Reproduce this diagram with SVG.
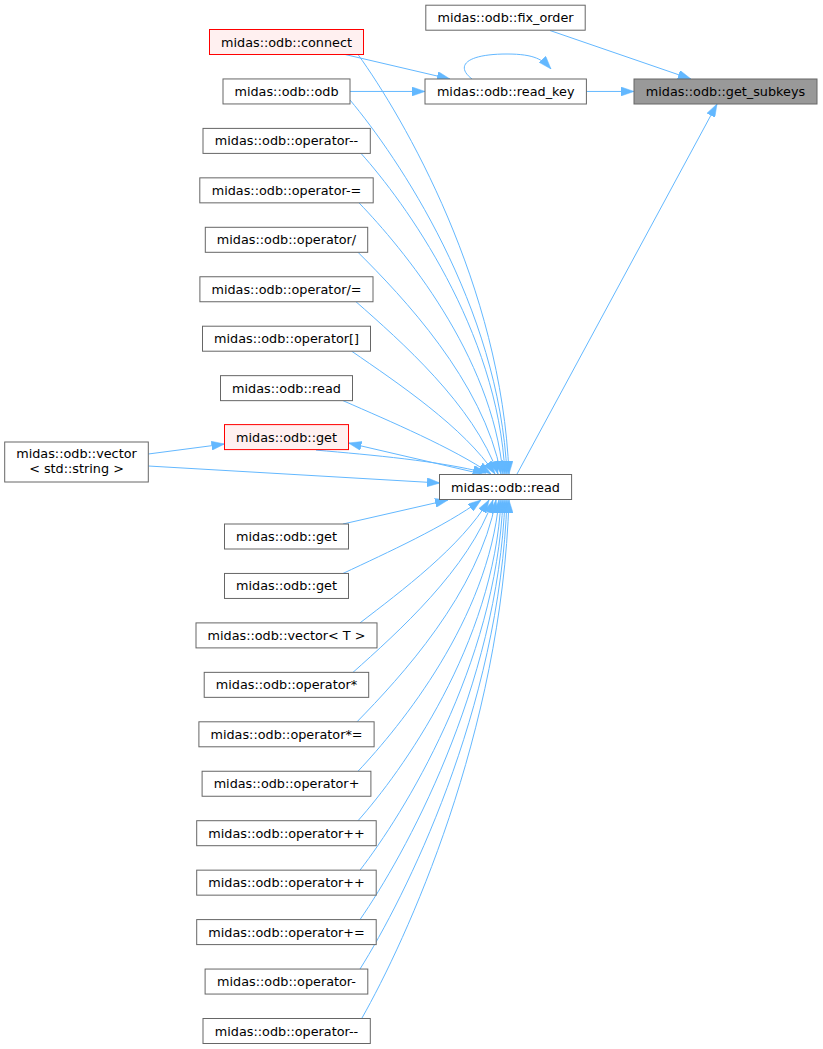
<svg xmlns="http://www.w3.org/2000/svg" width="823" height="1049" viewBox="0 0 823 1049">
<style>
rect.n{fill:#ffffff;stroke:#666666;stroke-width:1}
rect.r{fill:#fff0f0;stroke:#ff0000;stroke-width:1}
rect.h{fill:#999999;stroke:#666666;stroke-width:1}
text{font-family:"DejaVu Sans","Liberation Sans",sans-serif;font-size:12.8px;fill:#000000;text-anchor:middle}
#edges path{fill:none;stroke:#63b8ff;stroke-width:1;marker-end:url(#arr)}
</style>
<defs>
<marker id="arr" markerUnits="userSpaceOnUse" markerWidth="13" markerHeight="9" viewBox="0 0 13 9" refX="13" refY="4.5" orient="auto">
<path d="M0,0 L13,4.5 L0,9 z" fill="#63b8ff" stroke="#63b8ff" stroke-width="0.5"/>
</marker>
</defs>
<rect width="823" height="1049" fill="#ffffff"/>
<g id="edges">
<path d="M586.4,91.45 L634,91.45"/>
<path d="M550,30.5 L691,79"/>
<path d="M517,474 L717,104"/>
<path d="M472,79 C455,66 466,54 507,54 C535,54 543,60 551,69"/>
<path d="M343,54 L450,79"/>
<path d="M350,91.45 L425,91.45"/>
<path d="M358,54.5 C403.3,117.4 501.45,285.2 509,474"/>
<path d="M350,100 C397.1,156.1 499.15,305.7 507,474"/>
<path d="M361,153.4 C404.2,201.5 497.8,329.7 505,474"/>
<path d="M359,202.85 C402.7,248.3 491.9,355 503,474"/>
<path d="M358,252.3 C402.1,296.2 483.3,381 501,474"/>
<path d="M356,301.75 C400.6,341 473.8,405.1 498,474"/>
<path d="M351.7,351.2 C397.5,382.9 463.9,427.2 495,474"/>
<path d="M343,400.65 C391.1,421.8 452,447.5 491,474"/>
<path d="M316,450.1 C372,455 440,461 486,473"/>
<path d="M482,474 L348.5,443"/>
<path d="M148.3,454 L224.5,444"/>
<path d="M148.3,466 L440,483"/>
<path d="M343,524 L448,500"/>
<path d="M343,573.45 C387.9,552.3 444.6,526.6 481,500"/>
<path d="M360,622.9 C401.2,591.2 461,546.8 489,500"/>
<path d="M353,672.35 C397,633 469.1,569 493,500"/>
<path d="M357,721.8 C399.9,677.9 478.8,593 496,500"/>
<path d="M358,771.25 C400.8,725.8 488.1,619 499,500"/>
<path d="M358,820.7 C400.9,772.6 493.9,644.3 501,500"/>
<path d="M360,870.15 C402.9,814.6 495.9,666.6 503,500"/>
<path d="M360,919.6 C403.5,856.7 497.8,688.8 505,500"/>
<path d="M360,969.05 C404.1,898.7 499.65,711.1 507,500"/>
<path d="M361.7,1018.5 C405.9,940.7 501.6,733.3 509,500"/>
</g>
<g id="n_get_subkeys"><rect class="h" x="634" y="79" width="183" height="25"/><text x="725.5" y="96">midas::odb::get_subkeys</text></g>
<g id="n_fix_order"><rect class="n" x="425.8" y="5.2" width="159.4" height="25"/><text x="505.5" y="22.2">midas::odb::fix_order</text></g>
<g id="n_read_key"><rect class="n" x="425" y="79" width="161.4" height="25"/><text x="505.7" y="96">midas::odb::read_key</text></g>
<g id="n_read_main"><rect class="n" x="439.5" y="474.5" width="132.1" height="25"/><text x="505.5" y="491.5">midas::odb::read</text></g>
<g id="n_connect"><rect class="r" x="209.5" y="29.5" width="154" height="25"/><text x="286.5" y="46.5">midas::odb::connect</text></g>
<g id="n_odb"><rect class="n" x="223" y="78.95" width="127" height="25"/><text x="286.5" y="95.95">midas::odb::odb</text></g>
<g id="n_op_dec1"><rect class="n" x="203" y="128.4" width="167.3" height="25"/><text x="286.5" y="145.4">midas::odb::operator--</text></g>
<g id="n_op_sub_assign"><rect class="n" x="199.8" y="177.85" width="173.4" height="25"/><text x="286.5" y="194.85">midas::odb::operator-=</text></g>
<g id="n_op_div"><rect class="n" x="205.3" y="227.3" width="162.4" height="25"/><text x="286.5" y="244.3">midas::odb::operator/</text></g>
<g id="n_op_div_assign"><rect class="n" x="199.9" y="276.75" width="173.1" height="25"/><text x="286.5" y="293.75">midas::odb::operator/=</text></g>
<g id="n_op_index"><rect class="n" x="202.5" y="326.2" width="168" height="25"/><text x="286.5" y="343.2">midas::odb::operator[]</text></g>
<g id="n_read2"><rect class="n" x="220.5" y="375.65" width="132" height="25"/><text x="286.5" y="392.65">midas::odb::read</text></g>
<g id="n_get_red"><rect class="r" x="224.5" y="424.6" width="124" height="25"/><text x="286.5" y="441.6">midas::odb::get</text></g>
<g id="n_vector_str"><rect class="n" x="4.7" y="442" width="143.6" height="40"/><text x="76.5" y="458">midas::odb::vector</text><text x="76.5" y="472.5">&lt; std::string &gt;</text></g>
<g id="n_get2"><rect class="n" x="224.5" y="524" width="124" height="25"/><text x="286.5" y="541">midas::odb::get</text></g>
<g id="n_get3"><rect class="n" x="224.5" y="573.45" width="124" height="25"/><text x="286.5" y="590.45">midas::odb::get</text></g>
<g id="n_vector_t"><rect class="n" x="196" y="622.9" width="181" height="25"/><text x="286.5" y="639.9">midas::odb::vector&lt; T &gt;</text></g>
<g id="n_op_mul"><rect class="n" x="204.2" y="672.35" width="164.5" height="25"/><text x="286.5" y="689.35">midas::odb::operator*</text></g>
<g id="n_op_mul_assign"><rect class="n" x="198.9" y="721.8" width="175.2" height="25"/><text x="286.5" y="738.8">midas::odb::operator*=</text></g>
<g id="n_op_add"><rect class="n" x="202.1" y="771.25" width="168.8" height="25"/><text x="286.5" y="788.25">midas::odb::operator+</text></g>
<g id="n_op_inc1"><rect class="n" x="196.7" y="820.7" width="179.5" height="25"/><text x="286.5" y="837.7">midas::odb::operator++</text></g>
<g id="n_op_inc2"><rect class="n" x="196.7" y="870.15" width="179.5" height="25"/><text x="286.5" y="887.15">midas::odb::operator++</text></g>
<g id="n_op_add_assign"><rect class="n" x="196.7" y="919.6" width="179.5" height="25"/><text x="286.5" y="936.6">midas::odb::operator+=</text></g>
<g id="n_op_sub"><rect class="n" x="205.1" y="969.05" width="162.7" height="25"/><text x="286.5" y="986.05">midas::odb::operator-</text></g>
<g id="n_op_dec2"><rect class="n" x="203" y="1018.5" width="167.3" height="25"/><text x="286.5" y="1035.5">midas::odb::operator--</text></g>
</svg>
